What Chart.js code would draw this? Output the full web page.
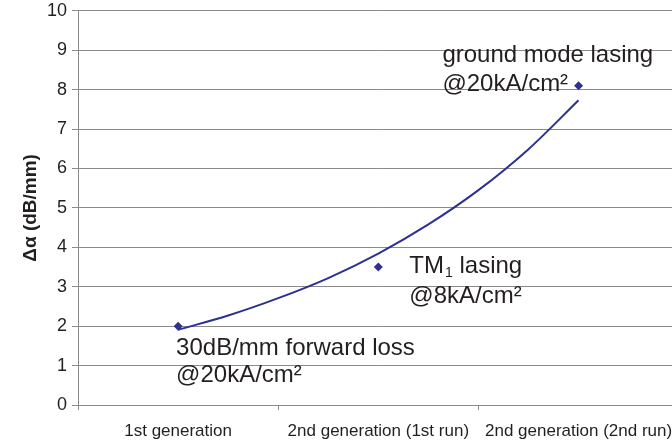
<!DOCTYPE html>
<html>
<head>
<meta charset="utf-8">
<script src="https://cdn.jsdelivr.net/npm/chart.js@4.4.1/dist/chart.umd.min.js"></script>
<style>
html,body{margin:0;padding:0;background:#fff;overflow:hidden;width:672px;height:444px;}
#wrap{width:684px;height:449px;margin-top:-5px;}
</style>
</head>
<body>
<div id="wrap"><canvas id="c" width="684" height="449"></canvas></div>
<script>
// ---- data ----
const categories = ["1st generation", "2nd generation (1st run)", "2nd generation (2nd run)"];
const measuredX = [1, 2, 3];
const measuredY = [2.0, 3.5, 8.1];
// trend curve
const trendX = [1, 1.25, 1.5, 1.75, 2, 2.25, 2.5, 2.75, 3];
const trendY = [1.91, 2.27, 2.71, 3.22, 3.84, 4.58, 5.45, 6.49, 7.73];
const yTicks = [0, 1, 2, 3, 4, 5, 6, 7, 8, 9, 10];
const yTitle = "\u0394\u03b1 (dB/mm)";
const noteGround = ["ground mode lasing", "@20kA/cm\u00b2"];
const noteTM = ["TM", "1", " lasing", "@8kA/cm\u00b2"];
const noteFirst = ["30dB/mm forward loss", "@20kA/cm\u00b2"];

const BLUE = "#2e3192";
const GRID = "#8a8a8a";
const TXT = "#231f20";
const FONT = "'Liberation Sans', Arial, sans-serif";

const notesPlugin = {
  id: "notes",
  afterDatasetsDraw(chart) {
    const ctx = chart.ctx;
    const xs = chart.scales.xl, ys = chart.scales.y;
    ctx.save();
    ctx.fillStyle = TXT;
    ctx.textBaseline = "alphabetic";
    ctx.textAlign = "left";
    const big = "24px " + FONT;
    const small = "14px " + FONT;
    // ground mode lasing
    let x = xs.getPixelForValue(2.32), y = ys.getPixelForValue(8.71);
    ctx.font = big;
    ctx.fillText(noteGround[0], x, y);
    ctx.fillText(noteGround[1], x, y + 29);
    // TM1 lasing
    x = xs.getPixelForValue(2.155); y = ys.getPixelForValue(3.36);
    ctx.font = big;
    ctx.fillText(noteTM[0], x, y);
    let w = ctx.measureText(noteTM[0]).width;
    ctx.font = small;
    ctx.fillText(noteTM[1], x + w + 1, y + 4);
    let w2 = ctx.measureText(noteTM[1]).width;
    ctx.font = big;
    ctx.fillText(noteTM[2], x + w + w2 + 1, y);
    ctx.fillText(noteTM[3], x, y + 30);
    // first gen
    x = xs.getPixelForValue(0.99); y = ys.getPixelForValue(1.27);
    ctx.font = big;
    ctx.fillText(noteFirst[0], x, y);
    ctx.fillText(noteFirst[1], x, y + 27);
    ctx.restore();
  }
};

new Chart(document.getElementById("c"), {
  type: "scatter",
  data: {
    labels: categories,
    datasets: [
      {
        type: "line",
        label: "trend",
        data: trendX.map((v, i) => ({x: v, y: trendY[i]})),
        xAxisID: "xl",
        borderColor: BLUE,
        borderWidth: 2,
        pointRadius: 0,
        fill: false,
        cubicInterpolationMode: "monotone"
      },
      {
        label: "measured",
        data: measuredX.map((v, i) => ({x: v, y: measuredY[i]})),
        xAxisID: "xl",
        pointStyle: "rectRot",
        pointRadius: 4.5,
        backgroundColor: BLUE,
        borderColor: BLUE,
        borderWidth: 0
      }
    ]
  },
  options: {
    responsive: false,
    animation: false,
    layout: {padding: {top: 5, right: 0, bottom: 0, left: 0}},
    plugins: {legend: {display: false}, tooltip: {enabled: false}},
    scales: {
      xl: {type: "linear", display: false, min: 0.5, max: 3.5},
      x: {
        type: "category",
        labels: categories,
        offset: true,
        position: "bottom",
        grid: {offset: true, drawOnChartArea: false, color: GRID, tickLength: 5, tickColor: GRID},
        border: {color: GRID, width: 1},
        ticks: {color: TXT, font: {family: FONT, size: 17}, padding: 11, maxRotation: 0, autoSkip: false},
        afterFit(s) { s.height = 39; }
      },
      y: {
        min: 0, max: 10,
        afterBuildTicks(s) { s.ticks = yTicks.map(v => ({value: v})); },
        grid: {color: GRID, lineWidth: 1, tickLength: 6, tickColor: GRID},
        border: {color: GRID, width: 1},
        ticks: {color: TXT, font: {family: FONT, size: 18}, padding: 5},
        title: {display: true, text: yTitle, color: TXT, font: {family: FONT, size: 19, weight: "bold"}, padding: {top: 19, bottom: 0}},
        afterFit(s) { s.width = 78; }
      }
    }
  },
  plugins: [notesPlugin]
});
</script>
</body>
</html>
